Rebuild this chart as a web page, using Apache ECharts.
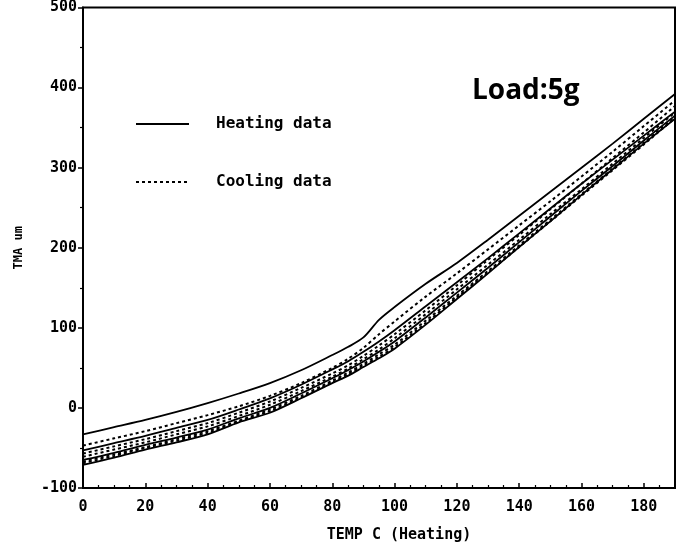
<!DOCTYPE html>
<html><head><meta charset="utf-8">
<script src="https://cdn.jsdelivr.net/npm/echarts@6/dist/echarts.min.js"></script>
<style>html,body{margin:0;padding:0;background:#fff}#c{width:678px;height:549px}</style>
</head><body><div id="c"></div>
<script>
var temps    = [0,10,20,30,40,50,60,70,80,85,90,95,100,110,120,130,140,150,160,170,180,190];
var heating1 = [-33,-24,-15,-5,6,18,31,47,66,76,88,110,126,155,181,210,240,270,300,330,361,392];
var heating2 = [-53,-44,-35,-25,-15,-2,12,29,48,58,70,83,97,127,157,187,218,249,280,310,340,370];
var heating3 = [-65,-56,-46,-37,-27,-13,0,18,37,47,58,70,83,113,144,175,207,239,271,302,334,365];
var heating4 = [-71,-62,-52,-43,-33,-18,-6,12,31,40,51,62,74,104,136,168,201,233,266,298,330,361];
var cooling1 = [-47,-38,-29,-19,-9,2,15,31,50,61,75,92,108,139,168,198,228,258,289,320,352,384];
var cooling2 = [-57,-48,-39,-29,-19,-6,8,25,43,53,65,78,92,122,153,185,216,248,280,312,344,377];
var cooling3 = [-61,-52,-43,-33,-23,-10,4,21,39,49,61,73,87,117,148,179,210,242,273,305,337,369];
var cooling4 = [-67,-58,-49,-39,-29,-16,-2,15,34,44,55,67,79,109,140,171,203,235,267,299,331,364];
var cooling5 = [-69,-60,-50,-41,-31,-17,-4,13,32,42,53,64,76,106,138,169,201,233,265,297,329,362];
var xTicks = [0,20,40,60,80,100,120,140,160,180];
var yTicks = [-100,0,100,200,300,400,500];

var FONT = 'DejaVu Sans Mono';
function pts(v){ return temps.map(function(t,i){ return [t, v[i]]; }); }
function heat(v){ return {name:'Heating data', type:'line', data:pts(v), smooth:0.3, symbol:'none',
  lineStyle:{color:'#000', width:1.8, type:'solid'}, itemStyle:{color:'#000'}}; }
function cool(v){ return {name:'Cooling data', type:'line', data:pts(v), smooth:0.3, symbol:'none',
  lineStyle:{color:'#000', width:2, type:[3,3]}, itemStyle:{color:'#000'}}; }

var chart = echarts.init(document.getElementById('c'), null, {renderer:'canvas'});
chart.setOption({
  backgroundColor:'#fff',
  animation:false,
  title:{text:'Load:5g', left:467, top:72,
    textStyle:{fontFamily:'Open Sans', fontWeight:'bold', fontSize:28, color:'#000'}},
  legend:{data:['Heating data','Cooling data'], orient:'vertical', left:135, top:116, padding:0,
    itemWidth:53, itemHeight:14, itemGap:42,
    itemStyle:{opacity:0},
    textStyle:{fontFamily:FONT, fontWeight:'bold', fontSize:16, color:'#000', padding:[0,0,0,22]}},
  grid:{left:83, right:0, top:6, bottom:61, show:true, borderColor:'#000', borderWidth:2, backgroundColor:'transparent'},
  xAxis:{type:'value', min:0, max:190, interval:20,
    name:'TEMP C (Heating)', nameLocation:'middle', nameGap:40,
    nameTextStyle:{fontFamily:FONT, fontWeight:'bold', fontSize:15, color:'#000', padding:[0,0,0,40]},
    axisLine:{onZero:false, lineStyle:{color:'#000', width:2}},
    axisTick:{inside:true, length:5, lineStyle:{color:'#000', width:1.5}},
    minorTick:{show:true, splitNumber:4, length:3, lineStyle:{color:'#000', width:1.2}},
    splitLine:{show:false},
    axisLabel:{fontFamily:FONT, fontWeight:'bold', fontSize:15, color:'#000', margin:12,
      formatter:function(v){ return xTicks.indexOf(v)>=0 ? String(v) : ''; }}},
  yAxis:{type:'value', min:-100, max:500, interval:100,
    name:'TMA um', nameLocation:'middle', nameGap:58, nameRotate:90,
    nameTextStyle:{fontFamily:FONT, fontWeight:'bold', fontSize:12, color:'#000'},
    axisLine:{onZero:false, lineStyle:{color:'#000', width:2}},
    axisTick:{inside:false, length:5, lineStyle:{color:'#000', width:1.5}},
    minorTick:{show:true, splitNumber:2, length:3, lineStyle:{color:'#000', width:1.2}},
    splitLine:{show:false},
    axisLabel:{fontFamily:FONT, fontWeight:'bold', fontSize:15, color:'#000', margin:6,
      formatter:function(v){ return yTicks.indexOf(v)>=0 ? String(v) : ''; }}},
  series:[heat(heating1), cool(cooling1), heat(heating2), cool(cooling2), cool(cooling3),
          heat(heating3), cool(cooling4), cool(cooling5), heat(heating4)]
});
</script></body></html>
